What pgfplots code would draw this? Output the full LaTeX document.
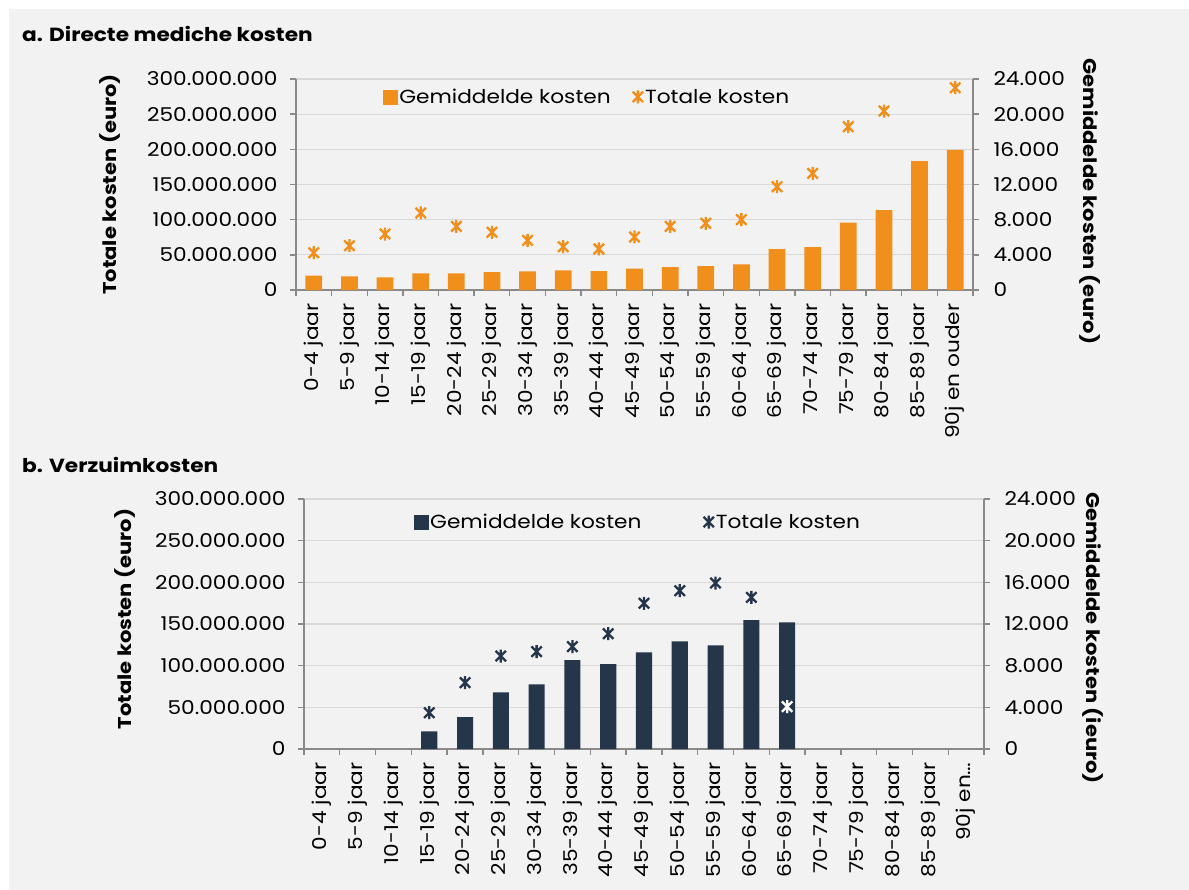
\documentclass[border=0pt]{standalone}
\usepackage{fontspec}
\setmainfont{Poppins}[FakeStretch=1.14]
\usepackage{pgfplots}
\pgfplotsset{compat=1.18}
\definecolor{bg}{HTML}{F2F2F2}
\definecolor{org}{HTML}{F08F1B}
\definecolor{navy}{HTML}{25364B}
\definecolor{grd}{HTML}{D9D9D9}
\definecolor{axl}{HTML}{898989}

\pgfdeclareplotmark{xstar}{%
  \pgfpathmoveto{\pgfqpoint{-0.8\pgfplotmarksize}{-0.8\pgfplotmarksize}}%
  \pgfpathlineto{\pgfqpoint{0.8\pgfplotmarksize}{0.8\pgfplotmarksize}}%
  \pgfpathmoveto{\pgfqpoint{-0.8\pgfplotmarksize}{0.8\pgfplotmarksize}}%
  \pgfpathlineto{\pgfqpoint{0.8\pgfplotmarksize}{-0.8\pgfplotmarksize}}%
  \pgfpathmoveto{\pgfqpoint{0pt}{-\pgfplotmarksize}}%
  \pgfpathlineto{\pgfqpoint{0pt}{\pgfplotmarksize}}%
  \pgfusepathqstroke}

\newcommand{\tickfont}{\fontsize{19bp}{22bp}\selectfont}
\newcommand{\labfont}{\bfseries\fontsize{18.5bp}{22bp}\selectfont}

\pgfplotsset{
  base/.style={scale only axis, xmin=-0.5, xmax=18.5, ymin=0, anchor=south west,
    tick align=outside, major tick length=6bp, minor tick length=6bp,
    axis line style={axl, line width=1.4bp},
    every tick/.style={axl, line width=1.4bp},
    tick label style={font=\tickfont, text=black},
    scaled y ticks=false, scaled x ticks=false,
    clip=false},
  baraxis/.style={base, axis x line*=bottom, axis y line*=right,
    ytick={0,4000,8000,12000,16000,20000,24000},
    yticklabels={0,4.000,8.000,12.000,16.000,20.000,24.000},
    ymax=24000, ymajorgrids, grid style={grd, line width=1.3bp},
    xtick={0,...,18}, major x tick style={draw=none},
    minor xtick={-0.5,0.5,...,18.5},
    xticklabel shift=4bp,
    xticklabel style={rotate=90, anchor=east},
    yticklabel style={anchor=west, xshift=11bp}},
  totaxis/.style={base, axis x line=none, axis y line*=left, ymax=300000000,
    ytick={0,50000000,100000000,150000000,200000000,250000000,300000000},
    yticklabels={0,50.000.000,100.000.000,150.000.000,200.000.000,250.000.000,300.000.000},
    yticklabel style={anchor=east, xshift=-9bp},
    legend style={draw=none, fill=none, anchor=center, font=\tickfont, inner sep=0pt,
      legend columns=2},
    legend cell align=left},
}

\begin{document}
\begin{tikzpicture}
\useasboundingbox (0,0) rectangle (1189bp,-890bp);
\fill[white] (0,0) rectangle (1189bp,-890bp);
\fill[bg] (9bp,-9bp) rectangle (1189bp,-890bp);

\node[anchor=base west, font=\bfseries\fontsize{19bp}{22bp}\selectfont, inner sep=0pt] at (22bp,-41bp) {a. Directe mediche kosten};
\node[anchor=base west, font=\bfseries\fontsize{19bp}{22bp}\selectfont, inner sep=0pt] at (22bp,-472bp) {b. Verzuimkosten};

% ---------- panel a ----------
\begin{axis}[baraxis, at={(296bp,-290bp)}, width=677bp, height=211bp,
  xticklabels={0-4 jaar,5-9 jaar,10-14 jaar,15-19 jaar,20-24 jaar,25-29 jaar,30-34 jaar,35-39 jaar,40-44 jaar,45-49 jaar,50-54 jaar,55-59 jaar,60-64 jaar,65-69 jaar,70-74 jaar,75-79 jaar,80-84 jaar,85-89 jaar,90j en ouder},
  ylabel={Gemiddelde kosten (euro)},
  every axis y label/.style={at={(axis description cs:1.1728,0.42)}, anchor=center, rotate=-90, font=\labfont}]
\addplot[ybar, bar width=0.47, fill=org, draw=none] coordinates {
(0,1626) (1,1555) (2,1440) (3,1895) (4,1890) (5,2047) (6,2123) (7,2237) (8,2161) (9,2426)
(10,2615) (11,2729) (12,2920) (13,4660) (14,4890) (15,7650) (16,9100) (17,14670) (18,15950)};
\end{axis}
\begin{axis}[totaxis, at={(296bp,-290bp)}, width=677bp, height=211bp,
  legend style={at={(0.43,0.915)}, /tikz/every even column/.append style={column sep=20bp}},
  ylabel={Totale kosten (euro)},
  every axis y label/.style={at={(axis description cs:-0.2747,0.5)}, anchor=center, rotate=90, font=\labfont}]
\addlegendimage{legend image code/.code={\fill[org] (0bp,-7bp) rectangle (14bp,7bp);}}
\addlegendentry{Gemiddelde kosten}
\addplot[only marks, mark=xstar, mark size=6.5bp, color=org, line width=2.3bp] coordinates {
(0,53000000) (1,63000000) (2,79600000) (3,109500000) (4,90500000) (5,82000000) (6,70600000)
(7,61600000) (8,58300000) (9,75400000) (10,90500000) (11,94800000) (12,100000000)
(13,146900000) (14,165900000) (15,232200000) (16,254500000) (17,165000000) (18,287600000)};
\addlegendentry{Totale kosten}
\end{axis}

% ---------- panel b ----------
\begin{axis}[baraxis, at={(304bp,-749bp)}, width=680bp, height=250bp,
  xticklabels={0-4 jaar,5-9 jaar,10-14 jaar,15-19 jaar,20-24 jaar,25-29 jaar,30-34 jaar,35-39 jaar,40-44 jaar,45-49 jaar,50-54 jaar,55-59 jaar,60-64 jaar,65-69 jaar,70-74 jaar,75-79 jaar,80-84 jaar,85-89 jaar,90j en…},
  ylabel={Gemiddelde kosten (ieuro)},
  every axis y label/.style={at={(axis description cs:1.160,0.444)}, anchor=center, rotate=-90, font=\labfont}]
\addplot[ybar, bar width=0.45, fill=navy, draw=none] coordinates {
(3,1700) (4,3070) (5,5440) (6,6210) (7,8540) (8,8160) (9,9280) (10,10340) (11,9950) (12,12380) (13,12160)};
\end{axis}
\begin{axis}[totaxis, at={(304bp,-749bp)}, width=680bp, height=250bp,
  legend style={at={(0.491,0.908)}, /tikz/every even column/.append style={column sep=60bp}},
  ylabel={Totale kosten (euro)},
  every axis y label/.style={at={(axis description cs:-0.263,0.52)}, anchor=center, rotate=90, font=\labfont}]
\addlegendimage{legend image code/.code={\fill[navy] (0bp,-7bp) rectangle (14bp,7bp);}}
\addlegendentry{Gemiddelde kosten}
\addplot[only marks, mark=xstar, mark size=6.5bp, color=navy, line width=2.3bp] coordinates {
(3,43600000) (4,79600000) (5,111600000) (6,116800000) (7,122800000) (8,138400000)
(9,174800000) (10,190000000) (11,199200000) (12,182000000)};
\addlegendentry{Totale kosten}
\addplot[only marks, mark=xstar, mark size=6.5bp, color=white, line width=2.3bp, forget plot] coordinates {
(13,50800000)};
\end{axis}
\end{tikzpicture}
\end{document}
